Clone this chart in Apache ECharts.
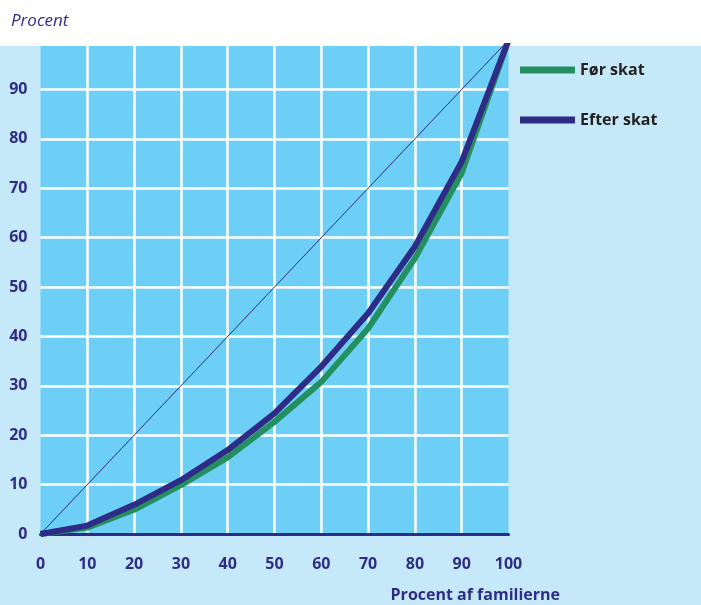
<!DOCTYPE html>
<html>
<head>
<meta charset="utf-8">
<script src="https://cdn.jsdelivr.net/npm/echarts@6/dist/echarts.min.js"></script>
<style>
html,body{margin:0;padding:0;background:#fff;}
#c{width:701px;height:605px;}
</style>
</head>
<body>
<div id="c"></div>
<script>
var categories = [0, 10, 20, 30, 40, 50, 60, 70, 80, 90, 100];
var forSkat = [0, 1.3, 4.9, 9.9, 15.5, 22.7, 30.8, 41.6, 55.8, 73.1, 100];
var efterSkat = [0, 1.7, 5.9, 10.9, 17.0, 24.4, 33.9, 44.7, 58.2, 75.4, 100];
var diagonal = [[0, 0], [100, 100]];
var seriesNames = ['Før skat', 'Efter skat'];
var yTitle = 'Procent';
var xTitle = 'Procent af familierne';

var navy = '#2e2c86';
var green = '#25905f';

function pairs(vals) { return categories.map(function (c, i) { return [c, vals[i]]; }); }

var chart = echarts.init(document.getElementById('c'), null, { renderer: 'canvas' });
chart.setOption({
  animation: false,
  backgroundColor: '#c6e9f9',
  grid: { left: 40.5, width: 468, top: 46, bottom: 71, show: true, backgroundColor: '#6dcff6', borderWidth: 0 },
  xAxis: {
    type: 'value', min: 0, max: 100, interval: 10,
    axisLine: { show: true, lineStyle: { color: navy, width: 3 } },
    axisTick: { show: false },
    axisLabel: { color: navy, fontFamily: 'Open Sans', fontWeight: 'bold', fontSize: 16, margin: 22 },
    splitLine: { show: true, showMinLine: false, showMaxLine: false, lineStyle: { color: '#ffffff', width: 2.5 } }
  },
  yAxis: {
    type: 'value', min: 0, max: 98.8, interval: 10,
    axisLine: { show: false },
    axisTick: { show: false },
    axisLabel: { color: navy, fontFamily: 'Open Sans', fontWeight: 'bold', fontSize: 16, margin: 13, showMaxLabel: false },
    splitLine: { show: true, showMinLine: false, showMaxLine: false, lineStyle: { color: '#ffffff', width: 2.5 } }
  },
  legend: {
    data: seriesNames,
    orient: 'vertical',
    left: 520, top: 60, padding: 0,
    itemWidth: 55, itemHeight: 7, itemGap: 30,
    icon: 'rect',
    textStyle: { color: '#231f20', fontFamily: 'Open Sans', fontWeight: 'bold', fontSize: 16, lineHeight: 20, padding: [0, 0, 0, 0] }
  },
  graphic: [
    { type: 'rect', left: 0, top: 0, shape: { width: 701, height: 46 }, style: { fill: '#ffffff' }, z: 0, silent: true },
    { type: 'text', left: 11, top: 13, style: { text: yTitle, fill: navy, font: 'italic 17px "Open Sans"' }, z: 10 },
    { type: 'text', right: 141, top: 587, style: { text: xTitle, fill: navy, font: 'bold 16px "Open Sans"' }, z: 10 }
  ],
  series: [
    { name: 'diag', type: 'line', data: diagonal, symbol: 'none', lineStyle: { color: navy, width: 1 }, z: 2, silent: true },
    { name: seriesNames[0], type: 'line', data: pairs(forSkat), symbol: 'none', itemStyle: { color: green }, lineStyle: { color: green, width: 6 }, z: 3 },
    { name: seriesNames[1], type: 'line', data: pairs(efterSkat), symbol: 'none', itemStyle: { color: navy }, lineStyle: { color: navy, width: 6 }, z: 4 }
  ]
});
</script>
</body>
</html>
